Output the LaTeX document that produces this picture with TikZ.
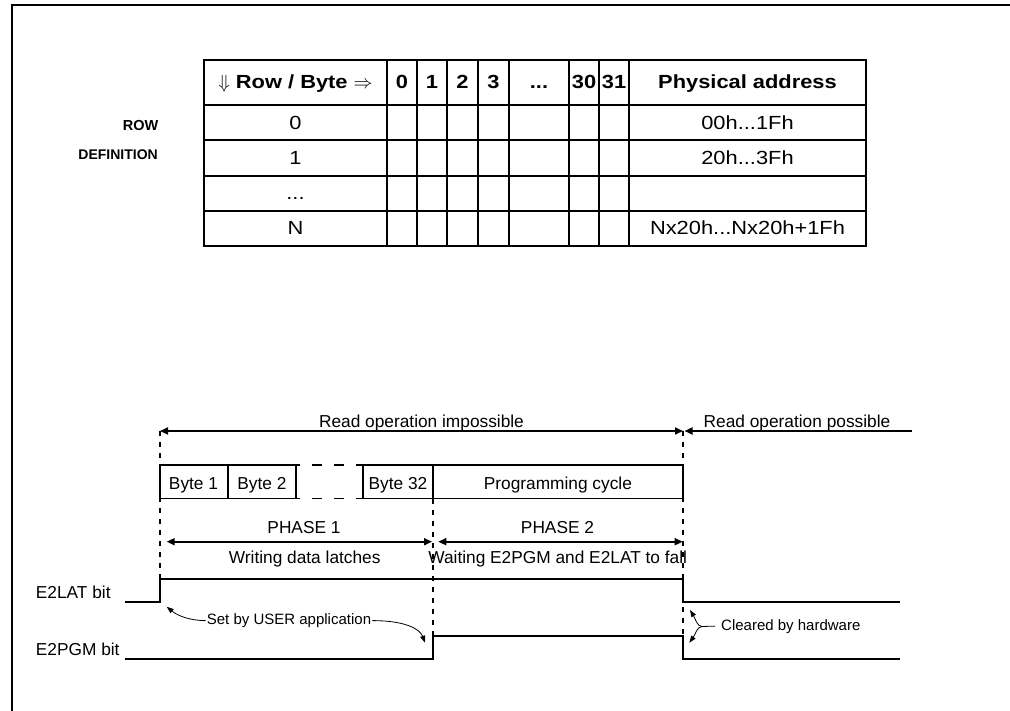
\RequirePackage{fix-cm}
\documentclass[tikz,border=0pt]{standalone}
\usepackage{fontspec}
\setmainfont{Liberation Sans}
\newfontfamily\tabfont[FakeStretch=1.15]{Liberation Sans}
\usetikzlibrary{arrows.meta, calc}

\tikzset{
  tabline/.style={line width=1.9pt, line cap=rect},
  tabtxt/.style={anchor=base, inner sep=0pt, font=\tabfont\fontsize{19}{22}\selectfont},
  tabhead/.style={tabtxt, font=\tabfont\bfseries\fontsize{19}{22}\selectfont},
  sig/.style={line width=1.9pt},
  boxline/.style={line width=1.7pt, line cap=rect},
  guide/.style={line width=1.7pt, dash pattern=on 5pt off 6pt},
  dim/.style={line width=1.7pt, {Triangle[length=8pt,width=7pt]}-{Triangle[length=8pt,width=7pt]}},
  lbl/.style={anchor=base, inner sep=0pt, font=\fontsize{17.3}{20}\selectfont},
  note/.style={anchor=base, inner sep=1pt, font=\fontsize{15}{18}\selectfont},
  notearrow/.style={line width=0.8pt, -{Triangle[length=7pt,width=5pt]}}
}

\begin{document}
\begin{tikzpicture}[x=1pt,y=-1pt]
\useasboundingbox (0,0) rectangle (1010,710);
\clip (0,0) rectangle (1010,710);
\draw[line width=2pt] (12,714) -- (12,5) -- (1014,5);

% row table
\foreach \x in {204,387,417,447,478,509,569,599,629,866}
  \draw[tabline] (\x,60) -- (\x,246);
\foreach \y in {60,105.3,140.3,176.3,211.3,246}
  \draw[tabline] (204,\y) -- (866,\y);
\node[tabhead] (rowbyte) at (295.5,88.3) {$\Downarrow$ Row / Byte $\Rightarrow$};
\foreach \x/\t in {402/0,432/1,462.5/2,493.5/3,584/30,614/31}
  \node[tabhead] (col\t) at (\x,88.3) {\t};
\node[tabhead] (coldots) at (539,88.3) {...};
\node[tabhead] (phys) at (747.5,88.3) {Physical address};
\node[tabtxt] (r0) at (295.5,129) {0};
\node[tabtxt] (r1) at (295.5,164.5) {1};
\node[tabtxt] (rdots) at (295.5,199.5) {...};
\node[tabtxt] (rn) at (295.5,234) {N};
\node[tabtxt] (a0) at (747.5,129) {00h...1Fh};
\node[tabtxt] (a1) at (747.5,164.5) {20h...3Fh};
\node[tabtxt] (an) at (747.5,234) {Nx20h...Nx20h+1Fh};
\node[anchor=base east, inner sep=0pt, font=\bfseries\fontsize{14.5}{17}\selectfont] (rowlbl) at (158.5,130.7) {ROW};
\node[anchor=base east, inner sep=0pt, font=\bfseries\fontsize{14}{17}\selectfont] (deflbl) at (158,159.3) {DEFINITION};

% timing
\draw[guide] (160,431) -- (160,579);
\draw[guide] (432.7,499) -- (432.7,636);
\draw[guide] (683,431) -- (683,636);

\draw[boxline] (160,465) -- (296,465) (160,498.5) -- (296,498.5);
\draw[boxline] (363.3,465) -- (683,465) (363.3,498.5) -- (683,498.5);
\draw[line width=1.7pt, dash pattern=on 10pt off 12pt, dash phase=6pt]
  (296,465) -- (363.3,465) (296,498.5) -- (363.3,498.5);
\foreach \x in {160,227.7,296,363.3,432.7,683}
  \draw[boxline] (\x,465) -- (\x,498.5);
\node[lbl] (b1) at (193.5,489.5) {Byte 1};
\node[lbl] (b2) at (261.9,489.5) {Byte 2};
\node[lbl] (b32) at (398,489.5) {Byte 32};
\node[lbl] (prog) at (557.9,489.5) {Programming cycle};

\coordinate (ri0) at (160,431);
\coordinate (ri1) at (683,431);
\coordinate (rp0) at (684.5,431);
\coordinate (rp1) at (912,431);
\draw[dim] (ri0) -- (ri1);
\draw[line width=1.7pt, {Triangle[length=8pt,width=7pt]}-] (rp0) -- (rp1);
\node[lbl] (imp) at (421.5,427) {Read operation impossible};
\node[lbl] (pos) at (797,427) {Read operation possible};

\coordinate (p1a) at (166.7,541.7);
\coordinate (p1b) at (432,541.7);
\coordinate (p2a) at (438.3,541.7);
\coordinate (p2b) at (682.7,541.7);
\draw[dim] (p1a) -- (p1b);
\draw[dim] (p2a) -- (p2b);
\node[lbl] (ph1) at (304,533) {PHASE 1};
\node[lbl] (ph2) at (557.5,533) {PHASE 2};
\node[lbl] (wr) at (304.7,563) {Writing data latches};
\node[lbl] (wt) at (557.7,563) {Waiting E2PGM and E2LAT to fall};

\draw[sig] (125,601.7) -- (160,601.7) -- (160,579) -- (683,579) -- (683,601.7) -- (900,601.7);
\draw[sig] (125,658.7) -- (432.7,658.7) -- (432.7,636) -- (683,636) -- (683,658.7) -- (900,658.7);
\node[lbl, anchor=base west] (lat) at (35.7,598) {E2LAT bit};
\node[lbl, anchor=base west] (pgm) at (35.7,655) {E2PGM bit};

\node[note] (setby) at (289,624.5) {Set by USER application};
\coordinate (setL) at (166.7,606.7);
\coordinate (setR) at (425,642.7);
\draw[notearrow] (setby.west) .. controls (190,620.5) and (178,616) .. (setL);
\draw[notearrow] (setby.east) .. controls (405,620.5) and (420,629) .. (setR);

\node[note, anchor=base west] (clr) at (720,630) {Cleared by hardware};
\coordinate (fork) at (702,626.5);
\coordinate (clrU) at (690,610);
\coordinate (clrD) at (689.3,642.7);
\draw[line width=0.8pt] ([xshift=-5pt]clr.west) -- (fork);
\draw[notearrow] (fork) .. controls (697,626.5) and (695,618) .. (clrU);
\draw[notearrow] (fork) .. controls (697,626.5) and (695,635) .. (clrD);
\end{tikzpicture}
\end{document}
